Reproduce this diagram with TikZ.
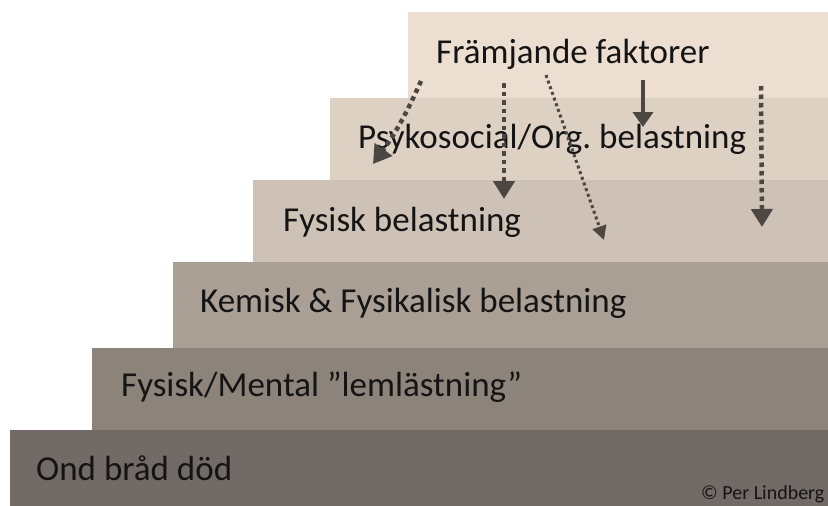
\documentclass[tikz,border=0pt]{standalone}
\usepackage{fontspec}
\setmainfont{Carlito}
\usetikzlibrary{arrows.meta}
\frenchspacing
\definecolor{sa}{HTML}{ECDFD2}
\definecolor{sb}{HTML}{DDD1C4}
\definecolor{sc}{HTML}{CEC2B6}
\definecolor{sd}{HTML}{A99F95}
\definecolor{se}{HTML}{8C837B}
\definecolor{sf}{HTML}{716A66}
\definecolor{arr}{HTML}{4D4744}
\definecolor{txt}{HTML}{141414}
\tikzset{
  lab/.style={anchor=base west, inner sep=0pt, font=\fontsize{35}{40}\selectfont, text=txt},
  copy/.style={anchor=base west, inner sep=0pt, font=\fontsize{20}{22}\selectfont, text=txt},
  tip/.style={-{Triangle[width=21pt,length=18pt]}},
  thickdot/.style={tip, draw=arr, line width=4.5pt, dash pattern=on 4.5pt off 4pt},
  thindot/.style={-{Triangle[width=14pt,length=14pt]}, draw=arr, line width=3pt, dash pattern=on 3pt off 3pt},
  solidarr/.style={-{Triangle[width=20pt,length=15pt]}, draw=arr, line width=4pt}
}
\begin{document}
\begin{tikzpicture}[x=1pt,y=-1pt]
\useasboundingbox (0,0) rectangle (828,506);
\fill[white] (0,0) rectangle (828,506);
% steps
\fill[sa] (408,12) rectangle (828,98);
\fill[sb] (330,98) rectangle (828,180);
\fill[sc] (253,180) rectangle (828,262);
\fill[sd] (173,262) rectangle (828,348);
\fill[se] (92,348) rectangle (828,430);
\fill[sf] (10,430) rectangle (828,506);
% labels
\node[lab] (t1) at (436,63) {Främjande faktorer};
\node[lab] (t2) at (358,148) {Psykosocial/Org. belastning};
\node[lab] (t3) at (283,231) {Fysisk belastning};
\node[lab] (t4) at (200,312) {Kemisk \& Fysikalisk belastning};
\node[lab] (t5) at (121,396) {Fysisk/Mental ”lemlästning”};
\node[lab] (t6) at (36,480) {Ond bråd död};
\node[copy] (cp) at (701,499) {© Per Lindberg};
% arrow end points
\coordinate (a1s) at (421,81);
\coordinate (a1e) at (373,164);
\coordinate (a2s) at (504,83);
\coordinate (a2e) at (504,199);
\coordinate (a3s) at (546,75);
\coordinate (a3e) at (604,240);
\coordinate (a4s) at (643,80);
\coordinate (a4e) at (643,127);
\coordinate (a5s) at (761,86);
\coordinate (a5e) at (762,227);
% arrows
\draw[thickdot] (a1s) to[bend left=6] (a1e);
\draw[thickdot] (a2s) -- (a2e);
\draw[thindot] (a3s) -- (a3e);
\draw[solidarr] (a4s) -- (a4e);
\draw[thickdot] (a5s) -- (a5e);
\end{tikzpicture}
\end{document}
